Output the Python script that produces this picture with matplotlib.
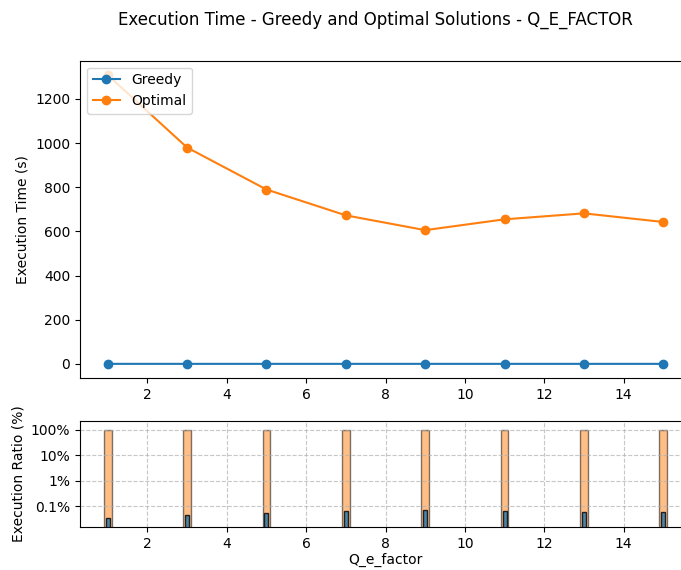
import matplotlib
matplotlib.use('Agg')
import matplotlib.pyplot as plt
import numpy as np
from matplotlib.ticker import FixedLocator, FixedFormatter, NullLocator

# Q_e_factor values and execution times (s)
q_e_factor = [1, 3, 5, 7, 9, 11, 13, 15]
greedy_time = [0.44, 0.43, 0.42, 0.43, 0.42, 0.42, 0.42, 0.40]
optimal_time = [1308, 980, 790, 673, 606, 655, 682, 643]

ratio_ticks = [0.1, 1, 10, 100]
ratio_tick_labels = ['0.1%', '1%', '10%', '100%']

W, H = 681, 570
fig = plt.figure(figsize=(W / 100, H / 100), dpi=100)

# axes extend slightly past the right edge, as in the reference crop
ax1 = fig.add_axes([80 / W, 1 - 378.3 / H, 611 / W, 317.6 / H])
ax2 = fig.add_axes([80 / W, 1 - 527.3 / H, 611 / W, 106.6 / H], sharex=ax1)

fig.text(375 / W, 1 - 20 / H, 'Execution Time - Greedy and Optimal Solutions - Q_E_FACTOR',
         ha='center', va='center', fontsize=12)

# ---- top: execution time ----
ax1.plot(q_e_factor, greedy_time, marker='o', label='Greedy')
ax1.plot(q_e_factor, optimal_time, marker='o', label='Optimal')
ax1.set_ylabel('Execution Time (s)')
ax1.legend(loc='upper left')

# ---- bottom: ratio to optimal (log scale) ----
x = np.array(q_e_factor)
greedy_ratio = np.array(greedy_time) / np.array(optimal_time) * 100
optimal_ratio = np.array(optimal_time) / np.array(optimal_time) * 100

ax2.bar(x, optimal_ratio, width=0.2, color='C1', alpha=0.5, edgecolor='black', label='Optimal')
ax2.bar(x, greedy_ratio, width=0.1, color='C0', alpha=0.8, edgecolor='black', label='Greedy')
ax2.set_yscale('log')
ax2.set_ylim(0.0149, 232)
ax2.yaxis.set_major_locator(FixedLocator(ratio_ticks))
ax2.yaxis.set_major_formatter(FixedFormatter(ratio_tick_labels))
ax2.yaxis.set_minor_locator(NullLocator())
ax2.grid(True, linestyle='--', alpha=0.7)
ax2.set_xlabel('Q_e_factor', labelpad=1.5)
ax2.set_ylabel('Execution Ratio (%)')

ax1.set_xlim(0.3, 15.7)

fig.savefig('out.png', dpi=100)
